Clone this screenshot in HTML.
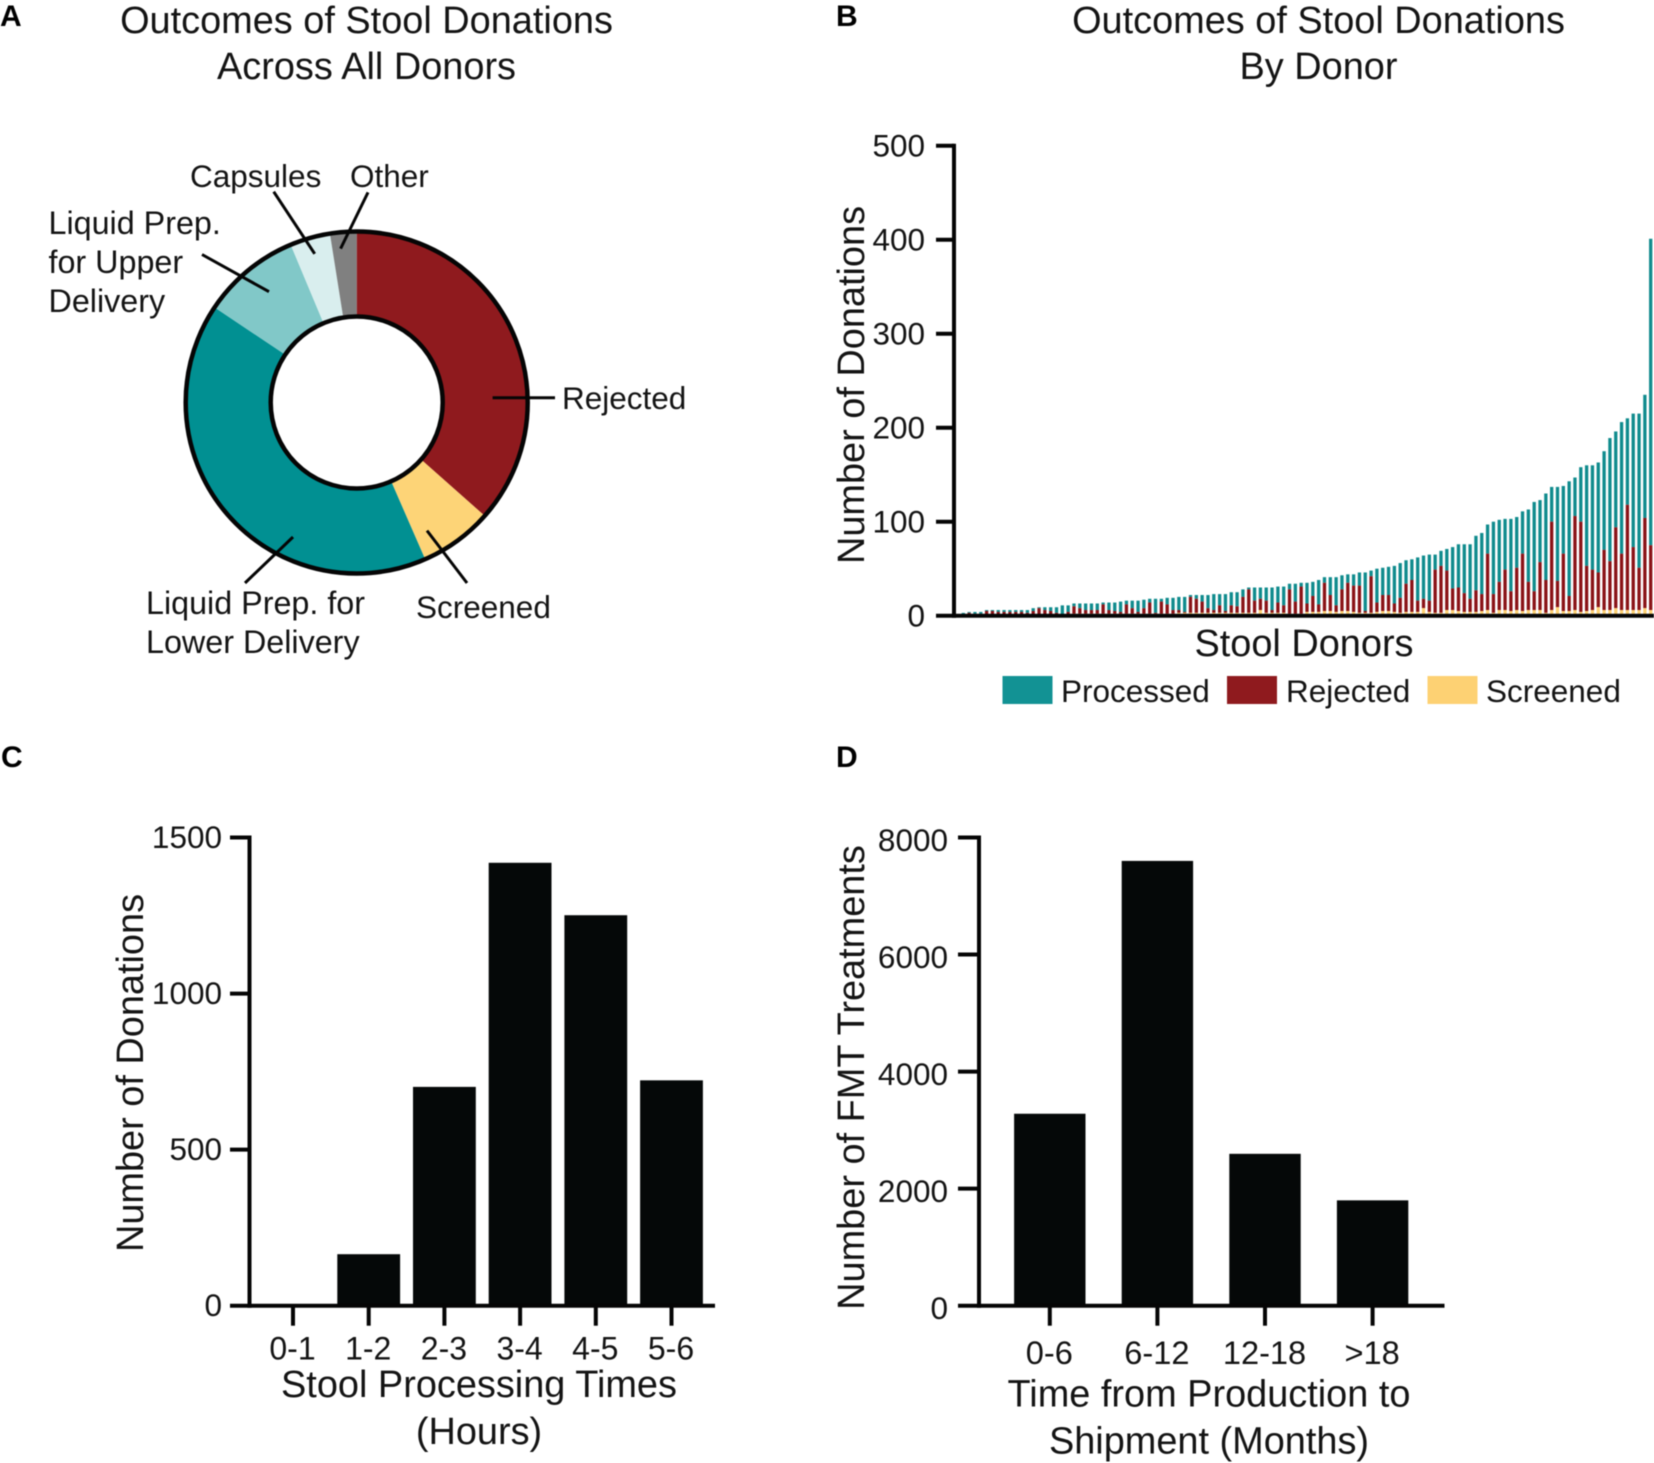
<!DOCTYPE html>
<html lang="en">
<head>
<meta charset="utf-8">
<title>Outcomes of Stool Donations</title>
<style>
html,body{margin:0;padding:0;background:#fff;width:1654px;height:1463px;overflow:hidden}
svg{display:block;filter:blur(0.4px)}
text{font-family:"Liberation Sans",Arial,sans-serif;fill:#141414}
.t{font-size:37.9px}
.l{font-size:31.5px}
.w{font-size:32.3px}
.p{font-size:30px;font-weight:bold;fill:#000}
.m{text-anchor:middle}
line{stroke:#050505;stroke-linecap:butt}
</style>
</head>
<body>
<svg id="fig" xmlns="http://www.w3.org/2000/svg" width="1654" height="1463" viewBox="0 0 1654 1463">
  <rect x="0" y="0" width="1654" height="1463" fill="#fff"/>
  <text class="p" x="0" y="26">A</text>
  <text class="p" x="836" y="26">B</text>
  <text class="p" x="1" y="767">C</text>
  <text class="p" x="836" y="767">D</text>

  <g>
    <text class="t m" x="366.5" y="33">Outcomes of Stool Donations</text>
    <text class="t m" x="366.5" y="79">Across All Donors</text>
  </g>
  <g id="donut"></g>
  <g stroke-width="3">
    <line x1="492.6" y1="397.7" x2="555" y2="397.7" stroke-width="3"/>
    <line x1="427" y1="530.6" x2="467" y2="583" stroke-width="3"/>
    <line x1="293" y1="537" x2="245" y2="583" stroke-width="3"/>
    <line x1="202" y1="254.5" x2="269" y2="291.7" stroke-width="3"/>
    <line x1="273.7" y1="191.7" x2="314.7" y2="253.8" stroke-width="3"/>
    <line x1="368" y1="192.4" x2="340.6" y2="248.6" stroke-width="3"/>
  </g>
  <text class="l" x="190" y="187">Capsules</text>
  <text class="l" x="350" y="187">Other</text>
  <g>
    <text class="w" x="48.5" y="234">Liquid Prep.</text>
    <text class="w" x="48.5" y="273">for Upper</text>
    <text class="w" x="48.5" y="312">Delivery</text>
  </g>
  <text class="l" x="562" y="409">Rejected</text>
  <text class="l" x="416" y="618">Screened</text>
  <g>
    <text class="w" x="146" y="614">Liquid Prep. for</text>
    <text class="w" x="146" y="653">Lower Delivery</text>
  </g>

  <g>
    <text class="t m" x="1318.5" y="33">Outcomes of Stool Donations</text>
    <text class="t m" x="1318.5" y="79">By Donor</text>
  </g>
  <g id="stacked"></g>
  <text class="t" transform="translate(864,385) rotate(-90)" text-anchor="middle">Number of Donations</text>
  <text class="t m" x="1304" y="656">Stool Donors</text>
  <g>
    <g>
      <rect x="1002.5" y="676" width="50" height="28" fill="#129294"/>
      <text class="l" x="1061" y="702">Processed</text>
    </g>
    <g>
      <rect x="1227" y="676" width="50" height="28" fill="#8f1a1e"/>
      <text class="l" x="1286" y="702">Rejected</text>
    </g>
    <g>
      <rect x="1427.5" y="676" width="50" height="28" fill="#fdd173"/>
      <text class="l" x="1486" y="702">Screened</text>
    </g>
  </g>

  <g id="chartC"></g>
  <text class="t" transform="translate(143,1073) rotate(-90)" text-anchor="middle">Number of Donations</text>
  <g>
    <text class="t m" x="479" y="1397">Stool Processing Times</text>
    <text class="t m" x="479" y="1444">(Hours)</text>
  </g>

  <g id="chartD"></g>
  <text class="t" transform="translate(864,1077.5) rotate(-90)" text-anchor="middle">Number of FMT Treatments</text>
  <g>
    <text class="t m" x="1209" y="1406.5">Time from Production to</text>
    <text class="t m" x="1209" y="1453.5">Shipment (Months)</text>
  </g>
</svg>
<script>
// ---- Panel A data ----
const donutCategories = ['Rejected', 'Screened', 'Liquid Prep. for Lower Delivery', 'Liquid Prep. for Upper Delivery', 'Capsules', 'Other'];
const donutValues = [36.5, 6.9, 40.9, 9.3, 3.8, 2.5];
const donutColors = ['#8f1a1e', '#fdd477', '#019092', '#81c8c8', '#d9eeee', '#808080'];

// ---- Panel B data (one entry per donor, sorted by total) ----
const processedValues = [
  2,1,2,2,1,1,2,2,2,2,2,3,3,1,3,4,6,10,7,3,5,7,7,7,2,8,9,11,4,8,12,9,4,15,3,7,13,14,16,2,4,7,14,17,12,18,14,15,
  8,2,14,12,14,24,17,20,6,19,4,22,15,26,6,19,30,15,9,12,14,41,6,36,29,30,40,37,25,22,46,46,49,16,16,23,44,46,52,58,
  58,65,31,77,66,54,77,54,45,77,95,66,92,37,100,72,122,41,58,107,111,117,105,131,102,140,92,142,164,131,326
];
const rejectedValues = [
  1,3,2,2,4,4,3,3,3,3,3,2,4,7,5,4,2,0,3,8,6,4,4,4,10,4,3,2,10,6,2,6,12,1,13,10,4,3,1,17,15,12,5,3,8,2,8,7,
  17,25,13,12,13,3,11,8,26,13,29,9,17,8,30,17,7,23,30,28,29,2,39,10,17,17,9,16,30,34,12,10,12,46,50,42,23,25,20,14,
  23,18,60,20,30,43,21,45,61,30,20,51,35,94,28,61,16,100,96,48,43,37,64,52,86,60,112,67,45,96,69
];
const screenedValues = [
  0,0,0,0,1,1,1,1,1,1,1,1,1,1,1,1,1,1,1,2,2,2,2,2,2,2,2,2,2,2,2,2,2,2,2,2,2,3,3,3,3,3,3,3,3,3,3,3,
  3,3,3,6,3,3,3,3,2,2,2,4,4,4,5,5,4,5,5,4,3,3,3,4,5,5,4,3,4,4,4,8,4,3,3,6,6,5,4,4,
  4,5,6,3,6,6,5,6,5,6,6,6,3,6,9,5,5,6,4,5,6,9,6,6,8,6,6,6,6,8,6
];
const stackedTicks = [0, 100, 200, 300, 400, 500];

// ---- Panel C data ----
const processingCategories = ['0-1', '1-2', '2-3', '3-4', '4-5', '5-6'];
const processingValues = [0, 165, 701, 1419, 1251, 722];
const processingTicks = [0, 500, 1000, 1500];

// ---- Panel D data ----
const shipmentCategories = ['0-6', '6-12', '12-18', '>18'];
const shipmentValues = [3280, 7600, 2595, 1800];
const shipmentTicks = [0, 2000, 4000, 6000, 8000];

const NS = 'http://www.w3.org/2000/svg';
function mk(parent, tag, attrs, txt) {
  const e = document.createElementNS(NS, tag);
  for (const k in attrs) e.setAttribute(k, attrs[k]);
  if (txt !== undefined) e.textContent = txt;
  parent.appendChild(e);
  return e;
}
function linear(d0, d1, r0, r1) { return v => r0 + (v - d0) * (r1 - r0) / (d1 - d0); }

function drawYAxis(g, y, ticks, axisX, tickLeft, labelX, xEnd, sw, prefix, labelDy) {
  const top = y(ticks[ticks.length - 1]);
  const base = y(0);
  ticks.forEach(t => {
    const tk = mk(g, 'line', {x1: tickLeft, x2: axisX, y1: y(t), y2: y(t), 'stroke-width': sw});
    
    
    const lb = mk(g, 'text', {x: labelX, y: y(t) + labelDy, 'text-anchor': 'end', class: 'l'}, String(t));
    
    
  });
  const ya = mk(g, 'line', {x1: axisX, x2: axisX, y1: top - sw / 2, y2: base + sw / 2, 'stroke-width': sw});
  
  
  const xa = mk(g, 'line', {x1: axisX, x2: xEnd, y1: base, y2: base, 'stroke-width': sw});
  
  
}

// Panel A: donut
(function () {
  const g = document.getElementById('donut');
  const cx = 356.7, cy = 402.5, R = 171, r = 86;
  const total = donutValues.reduce((a, b) => a + b, 0);
  let acc = 0;
  donutValues.forEach((v, i) => {
    const a0 = acc / total * 2 * Math.PI;
    acc += v;
    const a1 = acc / total * 2 * Math.PI;
    const p = (rad, a) => (cx + rad * Math.sin(a)).toFixed(2) + ' ' + (cy - rad * Math.cos(a)).toFixed(2);
    const large = a1 - a0 > Math.PI ? 1 : 0;
    const d = 'M' + p(R, a0) + 'A' + R + ' ' + R + ' 0 ' + large + ' 1 ' + p(R, a1) +
              'L' + p(r, a1) + 'A' + r + ' ' + r + ' 0 ' + large + ' 0 ' + p(r, a0) + 'Z';
    const s = mk(g, 'path', {d: d, fill: donutColors[i]});
    
    
  });
  const o = mk(g, 'circle', {cx: cx, cy: cy, r: R, fill: 'none', stroke: '#050505', 'stroke-width': 4.5});
  
  
  const n = mk(g, 'circle', {cx: cx, cy: cy, r: r, fill: '#fff', stroke: '#050505', 'stroke-width': 4.5});
  
  
})();

// Panel B: stacked bars
(function () {
  const g = document.getElementById('stacked');
  const y = linear(0, 500, 615.7, 145.7);
  const x = linear(0, processedValues.length - 1, 963.3, 1650.7);
  const w = 3.3;
  processedValues.forEach((p, i) => {
    const s = screenedValues[i], rj = rejectedValues[i];
    const cx = x(i);
    const a = mk(g, 'rect', {x: cx - w / 2, width: w, y: y(s + rj + p), height: y(s + rj) - y(s + rj + p), fill: '#0f8b8d'});
    
    
    const b = mk(g, 'rect', {x: cx - w / 2, width: w, y: y(s + rj), height: y(s) - y(s + rj), fill: '#8a1216'});
    
    
    const c = mk(g, 'rect', {x: cx - w / 2, width: w, y: y(s), height: y(0) - y(s), fill: '#fdd173'});
    
    
  });
  drawYAxis(g, y, stackedTicks, 954, 936, 925, 1654, 4, 'stacked', 11);
})();

function drawBarChart(id, prefix, cats, vals, ticks, o) {
  const g = document.getElementById(id);
  const y = linear(0, ticks[ticks.length - 1], o.base, o.top);
  const x = i => o.x0 + i * o.step;
  vals.forEach((v, i) => {
    if (v <= 0) return;
    const b = mk(g, 'rect', {x: x(i) - o.w / 2, width: o.w, y: y(v), height: y(0) - y(v), fill: '#050808'});
    
    
  });
  drawYAxis(g, y, ticks, o.axisX, o.tickLeft, o.labelX, o.xEnd, 4, prefix, o.labelDy);
  cats.forEach((c, i) => {
    const t = mk(g, 'line', {x1: x(i), x2: x(i), y1: o.base, y2: o.base + 20, 'stroke-width': 4});
    
    
    const l = mk(g, 'text', {x: x(i) - 0.5, y: o.labelY, 'text-anchor': 'middle', style: 'font-size:' + o.labelSize + 'px'}, c);
    
    
  });
}

drawBarChart('chartC', 'processing', processingCategories, processingValues, processingTicks,
  {base: 1305.7, top: 837.5, x0: 293, step: 75.7, w: 62.8, axisX: 249.5, tickLeft: 230, labelX: 222, xEnd: 715, labelY: 1359.6, labelDy: 10.5, labelSize: 32});
drawBarChart('chartD', 'shipment', shipmentCategories, shipmentValues, shipmentTicks,
  {base: 1305.7, top: 837.5, x0: 1049.8, step: 107.6, w: 71.4, axisX: 979, tickLeft: 958, labelX: 948, xEnd: 1444.5, labelY: 1364, labelDy: 13.5, labelSize: 32.6});
</script>
</body>
</html>
